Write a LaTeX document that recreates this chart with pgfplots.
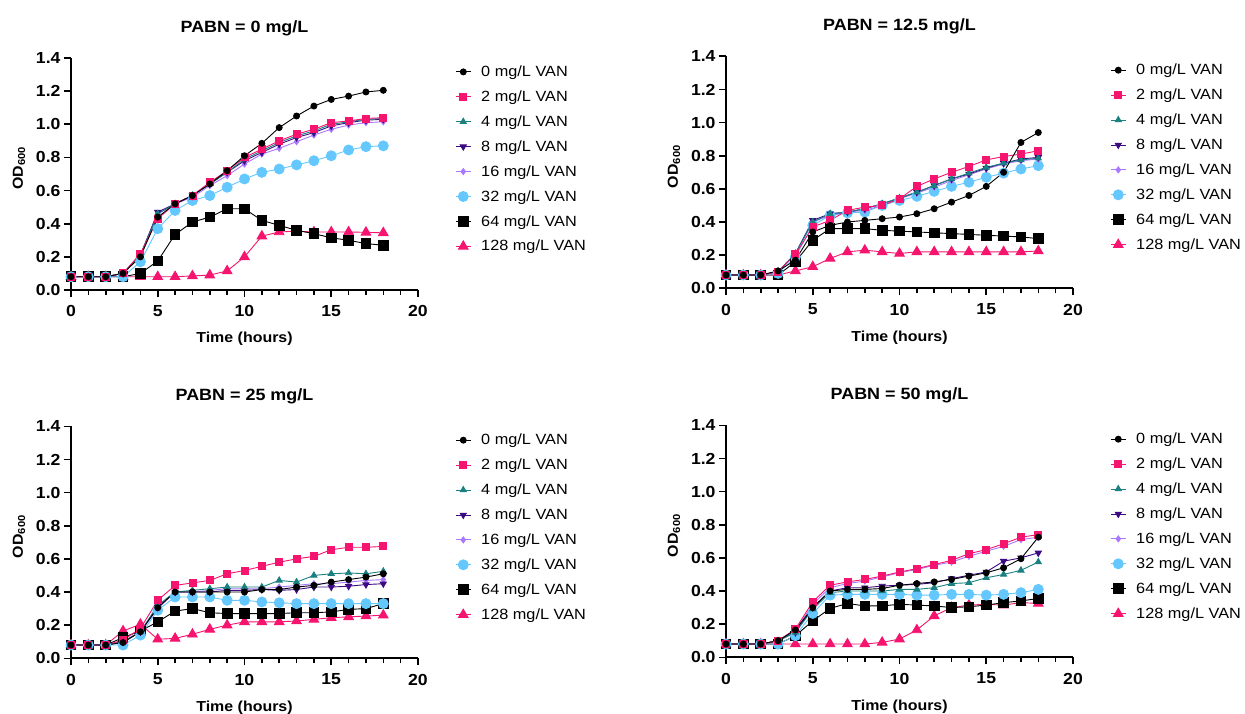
\documentclass[border=0pt]{standalone}
\usepackage{pgfplots}
\usepackage{pgfplotstable}
\pgfplotsset{compat=1.18}
\usepackage{fontspec}
\setmainfont[FakeStretch=1.1]{Liberation Sans}

\definecolor{cpink}{RGB}{245,20,110}
\definecolor{cteal}{RGB}{26,128,128}
\definecolor{cpurple}{RGB}{60,10,130}
\definecolor{clav}{RGB}{170,120,255}
\definecolor{cblue}{RGB}{100,200,255}

\pgfplotstableread{
t v0 v2 v4 v8 v16 v32 v64 v128
0 .08 .08 .08 .08 .08 .08 .08 .08
1 .08 .08 .08 .08 .08 .08 .08 .08
2 .08 .08 .08 .08 .08 .08 .08 .08
3 .10 .10 .10 .10 .10 .08 .08 .08
4 .20 .22 .21 .21 .21 .17 .10 .08
5 .44 .43 .46 .47 .46 .37 .175 .08
6 .52 .52 .52 .52 .52 .48 .335 .08
7 .57 .57 .57 .57 .56 .54 .41 .085
8 .64 .65 .64 .64 .63 .57 .44 .09
9 .72 .72 .71 .71 .69 .62 .49 .115
10 .81 .80 .79 .78 .76 .67 .49 .20
11 .885 .85 .84 .83 .82 .71 .42 .325
12 .98 .90 .89 .88 .855 .73 .39 .35
13 1.05 .94 .93 .92 .895 .755 .36 .355
14 1.11 .97 .96 .95 .935 .78 .34 .35
15 1.15 1.01 1.00 .99 .97 .81 .315 .35
16 1.17 1.02 1.015 1.01 .995 .845 .30 .35
17 1.195 1.035 1.03 1.025 1.01 .865 .28 .348
18 1.205 1.04 1.035 1.03 1.015 .87 .27 .345
}\tabA

\pgfplotstableread{
t v0 v2 v4 v8 v16 v32 v64 v128
0 .08 .08 .08 .08 .08 .08 .08 .08
1 .08 .08 .08 .08 .08 .08 .08 .08
2 .08 .08 .08 .08 .08 .08 .08 .08
3 .105 .10 .10 .10 .10 .09 .08 .08
4 .17 .205 .21 .21 .21 .19 .16 .105
5 .34 .37 .40 .41 .40 .38 .29 .13
6 .38 .41 .45 .45 .44 .44 .36 .18
7 .40 .47 .46 .46 .46 .455 .36 .22
8 .41 .49 .48 .48 .47 .46 .36 .23
9 .42 .50 .51 .51 .50 .50 .35 .22
10 .43 .54 .545 .545 .54 .53 .345 .21
11 .45 .615 .58 .58 .575 .555 .34 .22
12 .48 .66 .62 .62 .61 .585 .335 .22
13 .52 .70 .66 .66 .65 .615 .33 .22
14 .56 .735 .695 .69 .685 .64 .325 .22
15 .615 .775 .73 .725 .72 .67 .32 .22
16 .70 .795 .755 .755 .75 .695 .315 .22
17 .88 .81 .775 .78 .77 .72 .31 .22
18 .94 .83 .785 .79 .78 .74 .30 .225
}\tabB

\pgfplotstableread{
t v0 v2 v4 v8 v16 v32 v64 v128
0 .08 .08 .08 .08 .08 .08 .08 .08
1 .08 .08 .08 .08 .08 .08 .08 .08
2 .08 .08 .08 .08 .08 .08 .08 .08
3 .095 .11 .10 .10 .10 .08 .125 .165
4 .16 .18 .16 .16 .16 .14 .165 .205
5 .305 .35 .32 .31 .30 .29 .22 .115
6 .40 .44 .40 .40 .40 .37 .285 .12
7 .40 .455 .41 .40 .40 .37 .30 .145
8 .40 .47 .42 .40 .41 .37 .275 .175
9 .40 .51 .43 .41 .42 .35 .27 .20
10 .40 .53 .43 .41 .42 .35 .27 .22
11 .415 .555 .43 .415 .42 .34 .27 .22
12 .415 .58 .47 .41 .43 .335 .27 .22
13 .43 .60 .46 .415 .44 .33 .275 .225
14 .44 .615 .50 .43 .45 .33 .275 .235
15 .46 .655 .51 .43 .45 .33 .28 .245
16 .475 .67 .515 .435 .46 .33 .295 .25
17 .49 .67 .51 .445 .47 .33 .30 .255
18 .51 .675 .525 .45 .475 .33 .33 .26
}\tabC

\pgfplotstableread{
t v0 v2 v4 v8 v16 v32 v64 v128
0 .08 .08 .08 .08 .08 .08 .08 .08
1 .08 .08 .08 .08 .08 .08 .08 .08
2 .08 .08 .08 .08 .08 .08 .08 .08
3 .10 .10 .10 .10 .10 .08 .08 .08
4 .165 .17 .15 .15 .16 .13 .13 .08
5 .30 .335 .29 .30 .32 .265 .22 .08
6 .40 .435 .39 .40 .42 .375 .295 .08
7 .41 .455 .40 .42 .445 .38 .325 .08
8 .41 .47 .40 .42 .46 .38 .31 .08
9 .415 .49 .40 .43 .485 .38 .31 .09
10 .435 .515 .41 .435 .51 .38 .32 .11
11 .445 .535 .41 .44 .53 .375 .315 .165
12 .455 .56 .42 .45 .555 .375 .31 .25
13 .47 .585 .445 .475 .575 .38 .30 .30
14 .49 .625 .45 .495 .61 .38 .305 .315
15 .51 .65 .48 .515 .64 .375 .315 .32
16 .54 .685 .50 .58 .67 .38 .33 .315
17 .595 .725 .525 .60 .71 .39 .34 .33
18 .725 .74 .575 .63 .725 .41 .355 .325
}\tabD

\pgfplotsset{
  s0/.style={black, line width=0.9pt, mark=*, mark size=3pt, mark options={solid, fill=black}},
  s2/.style={cpink, line width=0.9pt, mark=square*, mark size=3.5pt, mark options={solid, fill=cpink}},
  s4/.style={cteal, line width=0.9pt, mark=triangle*, mark size=3.5pt, mark options={solid, fill=cteal}},
  s8/.style={cpurple, line width=0.9pt, mark=triangle*, mark size=3.5pt, mark options={solid, fill=cpurple, rotate=180}},
  s16/.style={clav, line width=0.9pt, mark=diamond*, mark size=3pt, mark options={solid, fill=clav}},
  s32/.style={cblue, line width=0.9pt, mark=*, mark size=5pt, mark options={solid, fill=cblue}},
  s64/.style={black, line width=0.9pt, mark=square*, mark size=4.8pt, mark options={solid, fill=black}},
  s128/.style={cpink, line width=0.9pt, mark=triangle*, mark size=5.5pt, mark options={solid, fill=cpink}},
  panel/.style={
    scale only axis, width=347pt, height=232pt,
    xmin=0, xmax=20, ymin=0, ymax=1.4,
    axis lines=left, axis line style={-, line width=1.8pt},
    xtick={0,5,10,15,20}, minor xtick={1,2,3,4,6,7,8,9,11,12,13,14,16,17,18,19},
    ytick={0,0.2,0.4,0.6,0.8,1.0,1.2,1.4},
    tick align=outside, major tick length=7pt, minor tick length=5pt,
    every tick/.style={black, line width=1.6pt},
    /pgf/number format/assume math mode=true,
    yticklabel style={/pgf/number format/fixed, /pgf/number format/fixed zerofill, /pgf/number format/precision=1},
    ticklabel style={font=\bfseries\fontsize{16}{18}\selectfont},
    xticklabel style={yshift=-5pt},
    title style={at={(axis description cs:0.5,1.103)}, anchor=center, font=\bfseries\fontsize{16.3}{19}\selectfont},
    xlabel={Time (hours)},
    xlabel style={at={(axis description cs:0.5,-0.211)}, anchor=center, font=\bfseries\fontsize{14.5}{17}\selectfont},
    ylabel={OD\textsubscript{600}},
    ylabel style={at={(axis description cs:-0.15,0.525)}, anchor=center, font=\bfseries\fontsize{14.5}{17}\selectfont},
    legend entries={128 mg/L VAN,64 mg/L VAN,32 mg/L VAN,16 mg/L VAN,8 mg/L VAN,4 mg/L VAN,2 mg/L VAN,0 mg/L VAN},
    reverse legend,
    legend cell align=left,
    legend image code/.code={\draw[mark repeat=2,mark phase=2] plot coordinates {(0pt,0pt)(7.5pt,0pt)(15pt,0pt)};},
    legend style={at={(axis description cs:1.107,0.976)}, anchor=north west, draw=none, fill=none,
      font=\fontsize{14.8}{17}\selectfont, row sep=8.7pt, column sep=8pt, inner sep=0pt},
  }
}

\newcommand{\allseries}[1]{%
  \addplot[s128] table[x=t,y=v128]{#1};
  \addplot[s64] table[x=t,y=v64]{#1};
  \addplot[s32] table[x=t,y=v32]{#1};
  \addplot[s16] table[x=t,y=v16]{#1};
  \addplot[s8] table[x=t,y=v8]{#1};
  \addplot[s4] table[x=t,y=v4]{#1};
  \addplot[s2] table[x=t,y=v2]{#1};
  \addplot[s0] table[x=t,y=v0]{#1};
}

\begin{document}
\begin{tikzpicture}
\useasboundingbox (0pt,0pt) rectangle (1245pt,713pt);
\begin{axis}[panel, at={(71pt,423pt)}, anchor=origin, title={PABN = 0 mg/L}]
\allseries{\tabA}
\end{axis}
\begin{axis}[panel, at={(726pt,424.7pt)}, anchor=origin, title={PABN = 12.5 mg/L}]
\allseries{\tabB}
\end{axis}
\begin{axis}[panel, at={(71pt,54.7pt)}, anchor=origin, title={PABN = 25 mg/L}]
\allseries{\tabC}
\end{axis}
\begin{axis}[panel, at={(726pt,55.7pt)}, anchor=origin, title={PABN = 50 mg/L}]
\allseries{\tabD}
\end{axis}
\end{tikzpicture}
\end{document}
